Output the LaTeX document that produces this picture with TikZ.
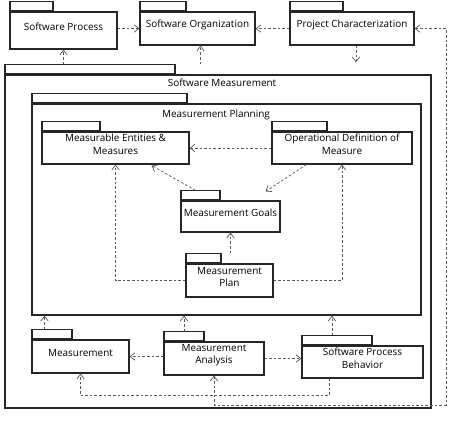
\documentclass[tikz,border=0pt]{standalone}
\usepackage{fontspec}
\setmainfont{Open Sans}
\usetikzlibrary{arrows.meta,positioning,calc,fit,shadows}
\def\pu{0.035cm}
\tikzset{
  pkg/.style={draw=black!85,line width=1.1pt,fill=white,inner sep=0pt,align=center,
              font=\fontsize{9.9}{12.5}\selectfont,
              drop shadow={shadow xshift=1.2pt,shadow yshift=-1.2pt,fill=black!30}},
  tab/.style={draw=black!85,line width=1.1pt,fill=white,inner sep=0pt,anchor=south west,
              minimum height=9*\pu},
  ttl/.style={font=\fontsize{9.9}{12.5}\selectfont,inner sep=1pt},
  dep/.style={draw=black!65,line width=0.7pt,dash pattern=on 2.6pt off 2pt,
              -{Straight Barb[length=1.7mm,width=2.6mm,line width=0.7pt]}},
  dep2/.style={dep,{Straight Barb[length=1.7mm,width=2.6mm,line width=0.7pt]}-{Straight Barb[length=1.7mm,width=2.6mm,line width=0.7pt]}}
}
\begin{document}
\begin{tikzpicture}[x=\pu,y=-\pu]
  \useasboundingbox (0,0) rectangle (453,423);
  % ---- top row ----
  \node[pkg,fit={(10,12)(117,49)}] (sp) {Software Process};
  \node[tab,minimum width=43*\pu] (sptab) at (sp.north west) {};
  \node[pkg,fit={(140,12)(255,45)}] (so) {Software Organization};
  \node[tab,minimum width=46*\pu] (sotab) at (so.north west) {};
  \node[pkg,fit={(290,12)(414,45)}] (pc) {Project Characterization};
  \node[tab,minimum width=53*\pu] (pctab) at (pc.north west) {};
  % ---- software measurement ----
  \node[pkg,fit={(5,75)(431,408)}] (sm) {};
  \node[tab,minimum width=170*\pu] (smtab) at (sm.north west) {};
  \node[ttl] (smlbl) at (222,83) {Software Measurement};
  % ---- measurement planning ----
  \node[pkg,fit={(32,104)(421,315)}] (mpl) {};
  \node[tab,minimum width=155*\pu] (mpltab) at (mpl.north west) {};
  \node[ttl] (mpllbl) at (216,115) {Measurement Planning};
  \node[pkg,fit={(42,132)(189,164)}] (mem) {Measurable Entities \&\\Measures};
  \node[tab,minimum width=58*\pu] (memtab) at (mem.north west) {};
  \node[pkg,fit={(272,132)(412,164)}] (odm) {Operational Definition of\\Measure};
  \node[tab,minimum width=55*\pu] (odmtab) at (odm.north west) {};
  \node[pkg,fit={(181,201)(280,232)}] (mg) {Measurement Goals};
  \node[tab,minimum width=39*\pu] (mgtab) at (mg.north west) {};
  \node[pkg,fit={(186,264)(273,297)}] (plan) {Measurement\\Plan};
  \node[tab,minimum width=35*\pu] (plantab) at (plan.north west) {};
  % ---- bottom row ----
  \node[pkg,fit={(32,340)(129,373)}] (m) {Measurement};
  \node[tab,minimum width=40*\pu] (mtab) at (m.north west) {};
  \node[pkg,fit={(164,342)(264,375)}] (ma) {Measurement\\Analysis};
  \node[tab,minimum width=40*\pu] (matab) at (ma.north west) {};
  \node[pkg,fit={(302,346)(423,378)}] (spb) {Software Process\\Behavior};
  \node[tab,minimum width=70*\pu] (spbtab) at (spb.north west) {};
  \coordinate (rt) at (446,405);
  % top dependencies
  \draw[dep] (so.west -| sp.east) -- (so.west);
  \draw[dep] (pc.west) -- (so.east);
  \draw[dep] ($(pc.south)+(4,0)$) -- ($(pc.south |- smtab.north)+(4,-2)$);
  \draw[dep] (sp.south |- smtab.north) -- (sp.south);
  \draw[dep] ($(so.south |- smtab.north)+(3,0)$) -- ($(so.south)+(3,0)$);
  \draw[dep2] (pc.east) -| (rt) -| (ma.south);
  % inside planning
  \draw[dep] (odm.west) -- (mem.east);
  \draw[dep] ($(mgtab.north)+(-5,0)$) -- ($(mem.south east)+(-38,1)$);
  \draw[dep] ($(odm.south west)+(35,0)$) -- ($(mg.north east)+(-15,-9)$);
  \draw[dep] (mg.south |- plantab.north) -- (mg.south);
  \draw[dep] (plan.west) -| (mem.south);
  \draw[dep] (plan.east) -| (odm.south);
  % bottom row
  \draw[dep] (m.east -| ma.west) -- (m.east);
  \draw[dep] (ma.east) -- (ma.east -| spb.west);
  \draw[dep] ($(mtab.north west)+(13,0)$) -- ($(mtab.north west |- mpl.south)+(13,0)$);
  \draw[dep] (matab.north) -- (matab.north |- mpl.south);
  \draw[dep] ($(spbtab.north)+(-5,0)$) -- ($(spbtab.north |- mpl.south)+(-5,0)$);
  \draw[dep] ($(spb.south west)+(28,0)$) -- ++(0,17) -| (m.south);
\end{tikzpicture}
\end{document}
